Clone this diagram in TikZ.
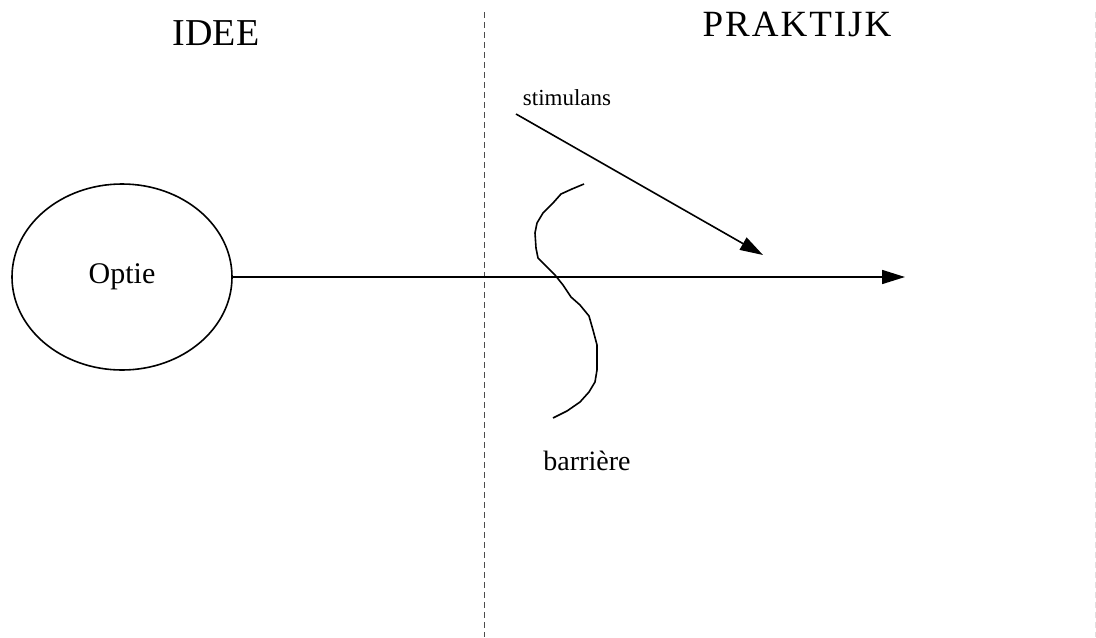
\documentclass[tikz,border=0pt]{standalone}
\usepackage{fontspec}
\setmainfont{Liberation Serif}
\usetikzlibrary{arrows.meta,shapes.geometric}

\begin{document}
\begin{tikzpicture}[x=0.5pt,y=-0.5pt,
    scheidslijn/.style={line width=0.5pt,dash pattern=on 3pt off 2pt},
    pijl/.style={line width=0.8pt,-{Triangle[length=11.5pt,width=7pt]}}]
  \useasboundingbox (0,0) rectangle (1096,637);
  % ---- scheiding tussen idee en praktijk ----
  \draw[scheidslijn,black!70] (484,12) -- (484,637);
  \draw[scheidslijn,black!12] (1095,12) -- (1095,637);
  % koppen
  \node[font=\fontsize{19}{21}\selectfont] (idee) at (216,33) {IDEE};
  \node[font=\fontsize{18.5}{21}\selectfont] (praktijk) at (797,24)
    {P\kern1pt R\kern1pt A\kern1pt K\kern1pt T\kern1pt I\kern1pt J\kern1pt K};
  % ---- de optie (ellips) en de pijl naar de praktijk ----
  \node[draw,ellipse,line width=0.8pt,inner sep=0pt,minimum width=110pt,minimum height=93pt,
        font=\fontsize{15}{17}\selectfont] (optie) at (122,277) {Optie};
  \coordinate (eind) at (905,277);
  \draw[pijl] (optie.east) -- (eind);
  % ---- stimulans ----
  \node[font=\fontsize{11.5}{13}\selectfont] (stimulans) at (567,98) {stimulans};
  \coordinate (s0) at (516,114);
  \coordinate (s1) at (763,255);
  \draw[pijl] (s0) -- (s1);
  % ---- barriere (met de hand getekende kronkel) ----
  \draw[line width=0.8pt,line join=round]
    plot coordinates {(584,184) (572,189) (561,194) (553,203) (543,213) (537,223)
      (535,233) (536,248) (538,258) (548,268) (555,275) (563,285) (571,297)
      (580,305) (589,316) (593,330) (597,345) (597,370) (595,382) (589,392)
      (580,402) (567,411) (553,418)};
  \node[font=\fontsize{14}{16}\selectfont] (barriere) at (587,461) {barrière};
\end{tikzpicture}
\end{document}
